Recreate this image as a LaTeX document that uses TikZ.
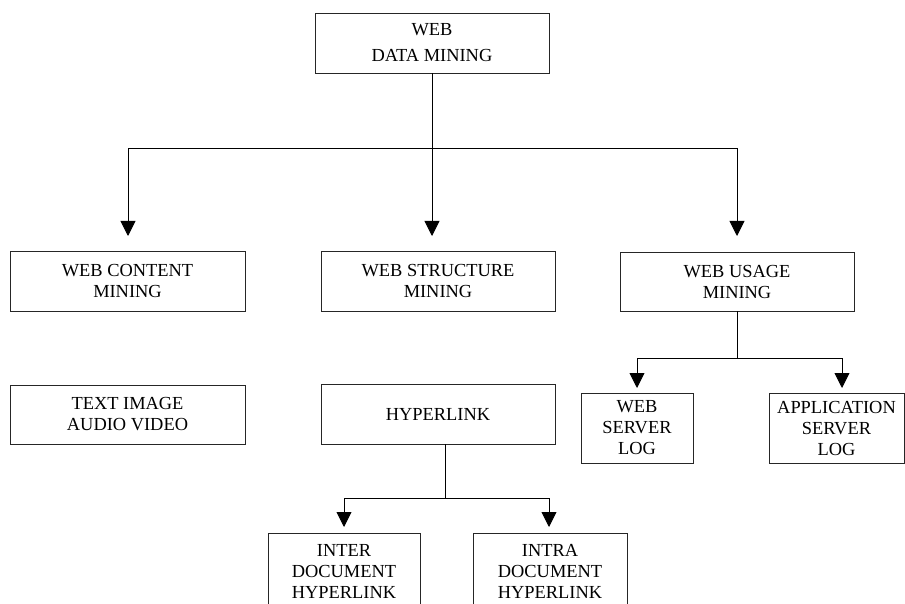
\documentclass[tikz,border=0pt]{standalone}
\usepackage{fontspec}
\setmainfont{Liberation Serif}
\usetikzlibrary{arrows.meta}
\begin{document}
\begin{tikzpicture}[x=1pt,y=-1pt,
  box/.style={draw=black!85,line width=0.9pt,inner sep=0pt,align=center,
    font=\fontsize{18.4}{21}\selectfont},
  link/.style={line width=0.9pt,draw=black},
  arr/.style={link,-{Triangle[length=15pt,width=15pt]}}]
\useasboundingbox (0,0) rectangle (905,604);
\clip (0,0) rectangle (905,604);
\fill[white] (0,0) rectangle (905,604);
% level 0
\node[box,minimum width=234pt,minimum height=60pt] (top) at (432,43) {WEB\\[5pt]DATA MINING};
% level 1
\node[box,minimum width=235pt,minimum height=60pt] (content) at (127.5,281) {WEB CONTENT\\MINING};
\node[box,minimum width=234pt,minimum height=60pt] (structure) at (438,281) {WEB STRUCTURE\\MINING};
\node[box,minimum width=234pt,minimum height=59pt] (usage) at (737,281.5) {WEB USAGE\\MINING};
% level 2
\node[box,minimum width=235pt,minimum height=59pt] (media) at (127.5,414.5) {TEXT IMAGE\\AUDIO VIDEO};
\node[box,minimum width=234pt,minimum height=60pt] (hyper) at (438,414) {HYPERLINK};
\node[box,minimum width=112pt,minimum height=70pt] (wsl) at (637,428) {WEB\\SERVER\\LOG};
\node[box,minimum width=135pt,minimum height=70pt] (asl) at (836.5,428) {APPLICATION\\SERVER\\LOG};
% level 3
\node[box,minimum width=152pt,minimum height=76pt] (inter) at (344,571) {INTER\\DOCUMENT\\HYPERLINK};
\node[box,minimum width=154pt,minimum height=76pt] (intra) at (550,571) {INTRA\\DOCUMENT\\HYPERLINK};
% junctions
\coordinate (j0) at (432,148);
\coordinate (t1) at (128,236);
\coordinate (t2) at (432,236);
\coordinate (t3) at (737,236);
\coordinate (j1) at (737,358);
\coordinate (t4) at (637,388);
\coordinate (t5) at (842,388);
\coordinate (h0) at (445,444);
\coordinate (j2) at (445,498);
\coordinate (t6) at (344,527);
\coordinate (t7) at (549,527);
% connectors
\draw[link] (top.south) -- (j0);
\draw[arr] (j0) -| (t1);
\draw[arr] (j0) -- (t2);
\draw[arr] (j0) -| (t3);
\draw[link] (usage.south) -- (j1);
\draw[arr] (j1) -| (t4);
\draw[arr] (j1) -| (t5);
\draw[link] (h0) -- (j2);
\draw[arr] (j2) -| (t6);
\draw[arr] (j2) -| (t7);
\end{tikzpicture}
\end{document}
